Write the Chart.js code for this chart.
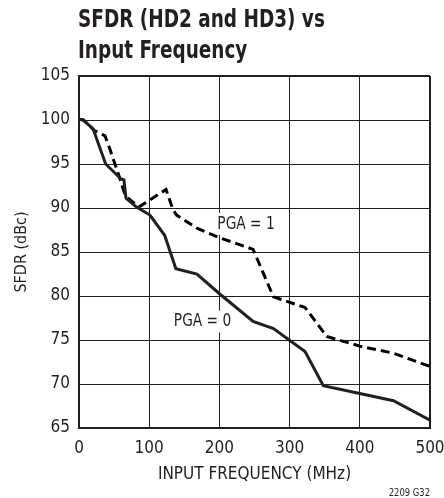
<!DOCTYPE html>
<html>
<head>
<meta charset="utf-8">
<script src="https://cdn.jsdelivr.net/npm/chart.js@4/dist/chart.umd.min.js"></script>
<style>
  html, body { margin: 0; padding: 0; background: #fff; }
  #wrap { width: 444px; height: 498px; position: relative; }
</style>
</head>
<body>
<div id="wrap"><canvas id="c" width="444" height="498"></canvas></div>
<script>
// ---- data ----
const freqPGA0 = [0, 6, 20, 38, 60, 64, 67, 82, 101, 122, 138, 168, 201, 248, 277, 322, 348, 448, 500];
const sfdrPGA0 = [100.1, 100, 99, 95, 93.3, 93.2, 91.1, 90.1, 89.2, 86.9, 83.1, 82.5, 80.2, 77.1, 76.3, 73.7, 69.8, 68.1, 65.9];

const freqPGA1 = [0, 6, 22, 37, 44, 58, 66, 85, 124, 134, 139, 168, 201, 248, 277, 322, 353, 400, 448, 500];
const sfdrPGA1 = [100.1, 100, 98.8, 98.2, 96.7, 93.4, 91.4, 90.1, 92.1, 89.8, 89.2, 87.7, 86.6, 85.3, 79.9, 78.7, 75.4, 74.3, 73.5, 72.0];

const xTicks = [0, 100, 200, 300, 400, 500];
const yTicks = [65, 70, 75, 80, 85, 90, 95, 100, 105];

const titleLines = ['SFDR (HD2 and HD3) vs', 'Input Frequency'];
const xTitle = 'INPUT FREQUENCY (MHz)';
const yTitle = 'SFDR (dBc)';
const footnote = '2209 G32';
const seriesLabels = ['PGA = 0', 'PGA = 1'];
const labelAnchors = [[176, 77.1], [238, 88.2]]; // data coords (MHz, dBc)

const FONT = '"DejaVu Sans Condensed", "Liberation Sans Narrow", sans-serif';
const INK = '#231f20';

const toPts = (xs, ys) => xs.map((x, i) => ({ x: x, y: ys[i] }));

// draw text horizontally squeezed so it keeps a narrow (condensed) look
function narrowText(ctx, text, x, y, squeeze, align) {
  const w = ctx.measureText(text).width * squeeze;
  let left = x;
  if (align === 'center') left = x - w / 2;
  else if (align === 'right') left = x - w;
  ctx.save();
  ctx.translate(left, y);
  ctx.scale(squeeze, 1);
  ctx.textAlign = 'left';
  ctx.fillText(text, 0, 0);
  ctx.restore();
  return w;
}

const decor = {
  id: 'decor',
  beforeDatasetsDraw(chart) {
    const { ctx, scales } = chart;
    ctx.save();
    ctx.font = '18px ' + FONT;
    ctx.textBaseline = 'middle';
    seriesLabels.forEach((t, i) => {
      const px = scales.x.getPixelForValue(labelAnchors[i][0]);
      const py = scales.y.getPixelForValue(labelAnchors[i][1]);
      const w = ctx.measureText(t).width * 0.85;
      ctx.fillStyle = '#fff';
      ctx.fillRect(px - w / 2 - 3, py - 11, w + 6, 22);
      ctx.fillStyle = INK;
      narrowText(ctx, t, px, py, 0.85, 'center');
    });
    ctx.restore();
  },
  afterDraw(chart) {
    const { ctx } = chart;
    ctx.save();
    ctx.fillStyle = INK;
    ctx.font = 'bold 25px ' + FONT;
    ctx.textBaseline = 'alphabetic';
    narrowText(ctx, titleLines[0], 78, 27, 0.82, 'left');
    narrowText(ctx, titleLines[1], 78, 58, 0.82, 'left');
    ctx.font = '11px ' + FONT;
    narrowText(ctx, footnote, 430, 496, 0.85, 'right');
    ctx.restore();
  }
};

new Chart(document.getElementById('c'), {
  type: 'line',
  data: {
    datasets: [
      {
        label: seriesLabels[0],
        data: toPts(freqPGA0, sfdrPGA0),
        borderColor: INK,
        borderWidth: 3,
        pointRadius: 0,
        tension: 0,
        fill: false
      },
      {
        label: seriesLabels[1],
        data: toPts(freqPGA1, sfdrPGA1),
        borderColor: '#000',
        borderWidth: 3,
        borderDash: [9, 5],
        pointRadius: 0,
        tension: 0,
        fill: false
      }
    ]
  },
  options: {
    responsive: false,
    animation: false,
    devicePixelRatio: 1,
    layout: { padding: { top: 76, right: 14, left: 0, bottom: 0 } },
    plugins: { legend: { display: false }, tooltip: { enabled: false }, title: { display: false } },
    scales: {
      x: {
        type: 'linear',
        min: 0, max: 500,
        afterFit(s) { s.height = 70; s.paddingLeft = 0; s.paddingRight = 0; },
        afterBuildTicks(s) { s.ticks = xTicks.map(v => ({ value: v })); },
        ticks: { font: { size: 17, family: FONT }, color: INK, padding: 10, maxRotation: 0 },
        grid: { color: INK, lineWidth: c => (c.tick && c.tick.value === 500 ? 2 : 1), drawTicks: false },
        border: { color: INK, width: 2 },
        title: { display: true, text: xTitle, font: { size: 17, family: FONT }, color: INK, padding: { top: 0, bottom: 13 } }
      },
      y: {
        type: 'linear',
        min: 65, max: 105,
        afterFit(s) { s.width = 79; s.paddingTop = 0; s.paddingBottom = 0; },
        afterBuildTicks(s) { s.ticks = yTicks.map(v => ({ value: v })); },
        ticks: { font: { size: 17, family: FONT }, color: INK, padding: 9 },
        grid: { color: INK, lineWidth: c => (c.tick && c.tick.value === 105 ? 2 : 1), drawTicks: false },
        border: { color: INK, width: 2 },
        title: { display: true, text: yTitle, font: { size: 16, family: FONT }, color: INK, padding: { top: 12, bottom: 0 } }
      }
    }
  },
  plugins: [decor]
});
</script>
</body>
</html>
